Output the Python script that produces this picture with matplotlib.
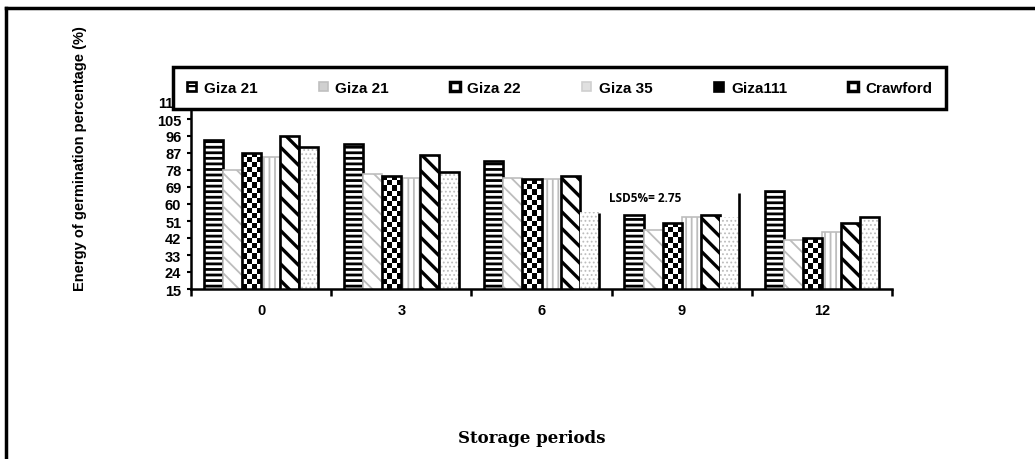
import numpy as np
import matplotlib
matplotlib.use("Agg")
import matplotlib.pyplot as plt
from matplotlib import font_manager
from matplotlib.patches import Patch
from matplotlib.lines import Line2D

# ---------------- data ----------------
periods = ["0", "3", "6", "9", "12"]
series_names = ["Giza 21", "Giza 21", "Giza 22", "Giza 35", "Giza111", "Crawford"]
giza21_a = [94, 92, 83, 54, 67]
giza21_b = [78, 76, 74, 46, 41]
giza22 = [87, 75, 73, 50, 42]
giza35 = [85, 74, 73, 53, 45]
giza111 = [96, 86, 75, 54, 50]
crawford = [90, 77, 56, 53, 53]
# Crawford bars drawn without a full outline (only a right-edge stroke of given height)
crawford_open = [False, False, True, True, False]
crawford_edge_top = [None, None, 55, 66, None]
y_min, y_max, y_step = 15, 114, 9
lsd_text = "LSD5%= 2.75"
lsd_pos = (2.74, 63.5)

names = {f.name for f in font_manager.fontManager.ttflist}
narrow = "Liberation Sans Narrow" if "Liberation Sans Narrow" in names else "Liberation Sans"

plt.rcParams["font.family"] = [narrow, "DejaVu Sans"]
plt.rcParams["hatch.linewidth"] = 1.6

fig = plt.figure(figsize=(10.35, 4.6), dpi=100)
ax = fig.add_axes([191 / 1035, 1 - 290 / 460, (892 - 191) / 1035, (290 - 103) / 460])

x = np.arange(len(periods))
w = 0.136
offs = (np.arange(6) - 2.5) * w
lw_edge = 1.9

with plt.rc_context({"hatch.linewidth": 2.0}):
    b1 = ax.bar(x + offs[0], giza21_a, w, facecolor="white", edgecolor="black",
                hatch="---", linewidth=lw_edge, zorder=2)
with plt.rc_context({"hatch.linewidth": 1.3}):
    b2 = ax.bar(x + offs[1], giza21_b, w, facecolor="white", edgecolor="#bdbdbd",
                hatch="\\\\", linewidth=1.2, zorder=2)
b3 = ax.bar(x + offs[2], giza22, w, facecolor="none", edgecolor="black",
            linewidth=lw_edge, zorder=3)
with plt.rc_context({"hatch.linewidth": 1.3}):
    b4 = ax.bar(x + offs[3], giza35, w, facecolor="white", edgecolor="#bdbdbd",
                hatch="|||", linewidth=1.2, zorder=2)
with plt.rc_context({"hatch.linewidth": 2.4}):
    b5 = ax.bar(x + offs[4], giza111, w, facecolor="white", edgecolor="black",
                hatch="\\\\", linewidth=lw_edge, zorder=2)
with plt.rc_context({"hatch.linewidth": 0.8}):
    b6 = ax.bar(x + offs[5], crawford, w, facecolor="white", edgecolor="#bdbdbd",
                hatch="....", linewidth=0, zorder=2)
cr_outline = [v if not o else np.nan for v, o in zip(crawford, crawford_open)]
b6o = ax.bar(x + offs[5], cr_outline, w, fill=False, edgecolor="black",
             linewidth=lw_edge, zorder=3)
for rect, top in zip(b6, crawford_edge_top):
    if top is not None:
        xr = rect.get_x() + rect.get_width()
        ax.plot([xr, xr], [y_min, top], color="black", lw=lw_edge, zorder=3,
                solid_capstyle="butt", clip_on=False)

ax.set_xlim(-0.5, len(periods) - 0.5)
ax.set_ylim(y_min, y_max)

# checkerboard fill for Giza 22
cell_h = 2.7
for rect in b3:
    x0 = rect.get_x()
    x1 = x0 + rect.get_width()
    y1 = rect.get_y() + rect.get_height()
    ny = max(1, int(round((y1 - y_min) / cell_h)))
    nx = 4
    yy, xx = np.indices((ny, nx))
    checker = ((yy + xx) % 2).astype(float)
    im = ax.imshow(checker, cmap="gray", vmin=0, vmax=1, extent=(x0, x1, y_min, y1),
                   aspect="auto", interpolation="nearest", origin="upper", zorder=2.5)
    im.set_clip_path(rect)
ax.set_xlim(-0.5, len(periods) - 0.5)
ax.set_ylim(y_min, y_max)

# axes styling
for s in ["top", "right"]:
    ax.spines[s].set_visible(False)
for s in ["left", "bottom"]:
    ax.spines[s].set_linewidth(1.8)
    ax.spines[s].set_zorder(4)

ax.set_yticks(np.arange(y_min, y_max + 1, y_step))
ax.tick_params(axis="y", direction="out", length=3, width=1.5, pad=4,
               labelsize=10.5)
for lab in ax.get_yticklabels():
    lab.set_fontweight("bold")

ax.set_xticks(np.arange(-0.5, len(periods), 1.0))
ax.set_xticklabels([])
ax.set_xticks(x, minor=True)
ax.set_xticklabels(periods, minor=True, fontweight="bold", fontsize=10.5)
ax.tick_params(axis="x", which="major", direction="out", length=5, width=1.8)
ax.tick_params(axis="x", which="minor", length=0, pad=10)

ax.text(lsd_pos[0], lsd_pos[1], lsd_text, ha="center", va="center",
        fontsize=8.5, fontweight="bold", family=["Open Sans", "DejaVu Sans"], zorder=5)

# legend
handles = [
    Patch(facecolor="white", edgecolor="black", hatch="---", linewidth=lw_edge),
    Patch(facecolor="#d0d0d0", edgecolor="#c0c0c0", linewidth=1.2),
    Patch(facecolor="white", edgecolor="black", linewidth=2.5),
    Patch(facecolor="#e0e0e0", edgecolor="#d0d0d0", linewidth=1.2),
    Patch(facecolor="black", edgecolor="black", linewidth=lw_edge),
    Patch(facecolor="white", edgecolor="black", linewidth=2.5),
]
leg = fig.legend(handles, series_names, loc="center", ncol=6, mode="expand",
                 bbox_to_anchor=(173 / 1035, 1 - 113 / 460, (946 - 173) / 1035, 48 / 460),
                 prop={"weight": "bold", "size": 11}, handlelength=0.6, handleheight=0.6,
                 handletextpad=0.5, fancybox=False, framealpha=1, edgecolor="black",
                 borderpad=0.9, borderaxespad=0)
leg.get_frame().set_linewidth(2.5)

# axis titles
fig.text(80 / 1035, 1 - 159 / 460, "Energy of germination percentage (%)", rotation=90,
         ha="center", va="center", fontsize=10.5, fontweight="bold",
         family=["Liberation Sans", "DejaVu Sans"])
fig.text(532 / 1035, 1 - 439 / 460, "Storage periods", ha="center", va="center",
         fontsize=12, fontweight="bold", family=["DejaVu Serif"])

# figure frame (top and left edges)
fig.add_artist(Line2D([6 / 1035, 1.0], [1 - 9 / 460, 1 - 9 / 460], color="black", lw=2.5,
                      transform=fig.transFigure))
fig.add_artist(Line2D([6 / 1035, 6 / 1035], [1 - 9 / 460, 0.0], color="black", lw=2.5,
                      transform=fig.transFigure))

fig.savefig("out.png", dpi=100)
